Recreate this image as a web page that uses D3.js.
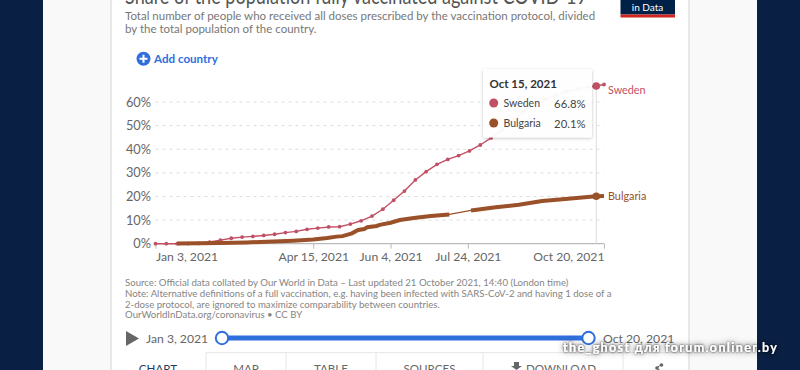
<!DOCTYPE html>
<html><head><meta charset="utf-8">
<script src="https://cdn.jsdelivr.net/npm/d3@7"></script>
<style>html,body{margin:0;padding:0;background:#fff;overflow:hidden}svg{display:block}text{font-family:Lato,sans-serif}</style>
</head><body><svg id="c" width="800" height="370"></svg>
<script>
const swedenDates = ["2021-01-03","2021-01-10","2021-01-17","2021-01-24","2021-01-31","2021-02-07","2021-02-14","2021-02-21","2021-02-28","2021-03-07","2021-03-14","2021-03-21","2021-03-28","2021-04-04","2021-04-11","2021-04-18","2021-04-25","2021-05-02","2021-05-09","2021-05-16","2021-05-23","2021-05-30","2021-06-06","2021-06-13","2021-06-20","2021-06-27","2021-07-04","2021-07-11","2021-07-18","2021-07-25","2021-08-01","2021-08-08","2021-08-15","2021-08-22","2021-08-29","2021-09-05","2021-09-12","2021-09-19","2021-09-26","2021-10-03","2021-10-10","2021-10-15","2021-10-20"];
const swedenValues = [0,0,0,0.05,0.1,0.7,1.5,2.3,2.8,3.1,3.5,4.0,4.7,5.2,6.1,6.6,7.1,7.2,8.3,9.7,11.7,14.6,18.4,22.3,27.0,30.5,33.6,35.7,37.3,39.3,41.8,44.8,48.2,52.1,55.9,59.0,61.2,63.0,64.4,65.5,66.3,66.8,67.4];
const bulgariaDatesA = ["2021-01-17","2021-01-31","2021-02-14","2021-03-03","2021-03-20","2021-04-02","2021-04-15","2021-04-24","2021-04-30","2021-05-04","2021-05-10","2021-05-14","2021-05-18","2021-05-20","2021-05-26","2021-05-28","2021-06-04","2021-06-10","2021-06-19","2021-06-30","2021-07-12"];
const bulgariaValuesA = [0.05,0.15,0.3,0.55,0.9,1.3,1.8,2.4,3.0,3.2,4.4,5.8,6.2,7.0,7.5,8.0,8.9,10.0,10.9,11.7,12.4];
const bulgariaDatesB = ["2021-07-26","2021-08-11","2021-08-26","2021-09-10","2021-09-25","2021-10-15","2021-10-20"];
const bulgariaValuesB = [14.1,15.4,16.5,18.1,18.9,20.1,20.2];
const yTicks = [0,10,20,30,40,50,60];
const xTickDates = ["2021-01-03","2021-04-15","2021-06-04","2021-07-24","2021-10-20"];
const tabNames = ["CHART","MAP","TABLE","SOURCES","DOWNLOAD"];
const hoverDate = "2021-10-15";

const parse = d3.utcParse("%Y-%m-%d");
const fmtTick = d3.utcFormat("%b %-d, %Y");
const SWEDEN="#c15065", BULGARIA="#9a5129", GREY="#666", NAVY="#0a1f44", BLUE="#2f6fdc";
const svg = d3.select("#c");
const txt=(x,y,s,o={})=>svg.append("text").attr("x",x).attr("y",y).text(s)
  .attr("font-size",o.size||12).attr("fill",o.fill||GREY).attr("text-anchor",o.anchor||"start")
  .attr("font-weight",o.weight||400).attr("font-family",o.family||null).attr("letter-spacing",o.ls||null);

// page frame
svg.append("rect").attr("width",800).attr("height",370).attr("fill","#f9f9f9");
svg.append("rect").attr("width",43).attr("height",370).attr("fill",NAVY);
svg.append("rect").attr("x",757).attr("width",43).attr("height",370).attr("fill",NAVY);
svg.append("rect").attr("x",110.5).attr("width",578.5).attr("height",370).attr("fill","#fff");
svg.append("rect").attr("x",110).attr("width",2).attr("height",370).attr("fill","#e8e8e8");
svg.append("rect").attr("x",688).attr("width",2).attr("height",370).attr("fill","#e8e8e8");

// header
txt(125,4,"Share of the population fully vaccinated against COVID-19",{size:23.5,fill:"#555",family:"'Liberation Serif',serif"}).attr("textLength",462).attr("lengthAdjust","spacingAndGlyphs");
txt(125,19.5,"Total number of people who received all doses prescribed by the vaccination protocol, divided",{size:11.5,fill:"#777"});
txt(125,33,"by the total population of the country.",{size:11.5,fill:"#777"});
svg.append("rect").attr("x",620.5).attr("y",0).attr("width",54.5).attr("height",14.5).attr("fill","#002147");
svg.append("rect").attr("x",620.5).attr("y",14.5).attr("width",54.5).attr("height",3).attr("fill","#ce261e");
txt(647.5,11,"in Data",{size:10,fill:"#fff",anchor:"middle",weight:400});

// add country
svg.append("circle").attr("cx",143.5).attr("cy",58.7).attr("r",7).attr("fill",BLUE);
svg.append("path").attr("d","M139.5 58.7H147.5M143.5 54.7V62.7").attr("stroke","#fff").attr("stroke-width",2);
txt(154,63,"Add country",{size:11.6,fill:BLUE,weight:700});

// scales
const x = d3.scaleUtc().domain([parse("2021-01-03"),parse("2021-10-20")]).range([155.5,604]);
const y = d3.scaleLinear().domain([0,60]).range([243.7,102]);

// grid
const grid = svg.append("g");
grid.selectAll("line").data(yTicks.slice(1)).join("line")
  .attr("x1",155.5).attr("x2",604).attr("y1",d=>y(d)).attr("y2",d=>y(d))
  .attr("stroke","#ddd").attr("stroke-dasharray","3,4");

// axes
const yAxis = svg.append("g").attr("transform","translate(151,0)")
  .call(d3.axisLeft(y).tickValues(yTicks).tickSize(0).tickPadding(0).tickFormat(d=>d+"%"));
yAxis.select(".domain").remove();
yAxis.selectAll("text").attr("font-size",12.8).attr("fill",GREY).attr("font-family","Lato,sans-serif");
const xAxis = svg.append("g").attr("transform","translate(0,243.7)")
  .call(d3.axisBottom(x).tickValues(xTickDates.map(parse)).tickSize(5).tickPadding(4).tickFormat(fmtTick));
xAxis.select(".domain").attr("stroke","#bbb").attr("stroke-width",1.2).attr("d","M155.5 0H604");
xAxis.selectAll("line").attr("stroke","#bbb");
xAxis.selectAll("text").attr("font-size",12.2).attr("fill",GREY).attr("font-family","Lato,sans-serif")
  .attr("text-anchor",(d,i,a)=>i===0?"start":i===a.length-1?"end":"middle");

// hover rule
svg.append("line").attr("x1",x(parse(hoverDate))).attr("x2",x(parse(hoverDate))).attr("y1",y(66.8)).attr("y2",243.7).attr("stroke","#ddd");

// series
const line = d3.line().x(d=>x(d[0])).y(d=>y(d[1]));
const zip=(ds,vs)=>ds.map((d,i)=>[parse(d),vs[i]]);
const sw=zip(swedenDates,swedenValues), bgA=zip(bulgariaDatesA,bulgariaValuesA), bgB=zip(bulgariaDatesB,bulgariaValuesB);
svg.append("path").attr("d",line(sw)).attr("fill","none").attr("stroke",SWEDEN).attr("stroke-width",1.4);
svg.append("g").selectAll("circle").data(sw).join("circle").attr("cx",d=>x(d[0])).attr("cy",d=>y(d[1])).attr("r",1.9).attr("fill",SWEDEN);
svg.append("path").attr("d",line(bgA.concat(bgB))).attr("fill","none").attr("stroke",BULGARIA).attr("stroke-width",1.2);
[bgA,bgB].forEach(run=>svg.append("path").attr("d",line(run)).attr("fill","none").attr("stroke",BULGARIA).attr("stroke-width",4));
const hd=parse(hoverDate);
svg.append("circle").attr("cx",x(hd)).attr("cy",y(66.8)).attr("r",3.8).attr("fill",SWEDEN);
svg.append("circle").attr("cx",x(hd)).attr("cy",y(20.1)).attr("r",3.8).attr("fill",BULGARIA);
txt(608,93.5,"Sweden",{size:10.8,fill:SWEDEN});
txt(608,199.5,"Bulgaria",{size:10.8,fill:BULGARIA});

// tooltip
const defs=svg.append("defs");
const f=defs.append("filter").attr("id","sh").attr("x","-10%").attr("y","-10%").attr("width","120%").attr("height","125%");
f.append("feDropShadow").attr("dx",0).attr("dy",1).attr("stdDeviation",1.5).attr("flood-color","#000").attr("flood-opacity",.25);
svg.append("rect").attr("x",483).attr("y",69).attr("width",109).attr("height",68.5).attr("rx",1.5).attr("fill","#fff").attr("fill-opacity",.95).attr("filter","url(#sh)");
txt(489.5,88,"Oct 15, 2021",{size:11.5,fill:"#333",weight:700});
[["Sweden",SWEDEN,"66.8%",103],["Bulgaria",BULGARIA,"20.1%",123]].forEach(r=>{
  svg.append("circle").attr("cx",493.7).attr("cy",r[3]).attr("r",4.5).attr("fill",r[1]);
  txt(503.5,r[3]+3.5,r[0],{size:10.5,fill:"#444"});
  txt(585.5,r[3]+4.5,r[2],{size:11.3,fill:"#444",anchor:"end"});
});

// footer
[["Source: Official data collated by Our World in Data – Last updated 21 October 2021, 14:40 (London time)",286],
 ["Note: Alternative definitions of a full vaccination, e.g. having been infected with SARS-CoV-2 and having 1 dose of a",296.5],
 ["2-dose protocol, are ignored to maximize comparability between countries.",307.5],
 ["OurWorldInData.org/coronavirus • CC BY",318]].forEach(l=>txt(125,l[1],l[0],{size:9.65,fill:"#858585"}));

// timeline
svg.append("path").attr("d","M126 331V346L139 338.5Z").attr("fill","#666");
txt(146,343,"Jan 3, 2021",{size:12.2});
txt(603,343,"Oct 20, 2021",{size:12.2});
svg.append("rect").attr("x",222).attr("y",335.5).attr("width",366).attr("height",5).attr("fill",BLUE);
[222,588.5].forEach(cx=>svg.append("circle").attr("cx",cx).attr("cy",338).attr("r",6.2).attr("fill","#fff").attr("stroke",BLUE).attr("stroke-width",2));

// tabs
svg.append("path").attr("d","M206 370V352.7H688").attr("fill","none").attr("stroke","#e6e6e6");
[286,376,483,623].forEach(v=>svg.append("line").attr("x1",v).attr("x2",v).attr("y1",353).attr("y2",370).attr("stroke","#e6e6e6"));
[[158,"#1d3d63"],[246,GREY],[331,GREY],[429.5,GREY],[561,GREY]].forEach((p,i)=>
  txt(p[0],373,tabNames[i],{size:11.6,fill:p[1],anchor:"middle"}));
svg.append("path").attr("d","M514 362H519V366H522L516.5 370L511 366H514Z").attr("fill",GREY);
svg.append("path").attr("d","M661 365L656 368M661 371L656 368").attr("stroke",GREY).attr("fill","none");
svg.append("circle").attr("cx",657).attr("cy",368).attr("r",1.8).attr("fill",GREY);
svg.append("circle").attr("cx",661.5).attr("cy",365).attr("r",1.8).attr("fill",GREY);

// watermark
const wf=defs.append("filter").attr("id","wm").attr("x","-10%").attr("y","-80%").attr("width","120%").attr("height","260%");
wf.append("feGaussianBlur").attr("in","SourceAlpha").attr("stdDeviation",3).attr("result","wide");
wf.append("feFlood").attr("flood-color","#000").attr("flood-opacity",.75).attr("result","c1");
wf.append("feComposite").attr("in","c1").attr("in2","wide").attr("operator","in").attr("result","s1");
wf.append("feGaussianBlur").attr("in","SourceAlpha").attr("stdDeviation",0.9).attr("result","near");
wf.append("feFlood").attr("flood-color","#000").attr("flood-opacity",.85).attr("result","c2");
wf.append("feComposite").attr("in","c2").attr("in2","near").attr("operator","in").attr("result","s2");
const wm=wf.append("feMerge");
wm.append("feMergeNode").attr("in","s1");
wm.append("feMergeNode").attr("in","s2");
wm.append("feMergeNode").attr("in","SourceGraphic");
txt(563,351.5,"the_ghost для forum.onliner.by",{size:12.6,fill:"#fff",weight:700,family:"'DejaVu Sans',sans-serif"}).attr("textLength",214).attr("filter","url(#wm)");
</script></body></html>
